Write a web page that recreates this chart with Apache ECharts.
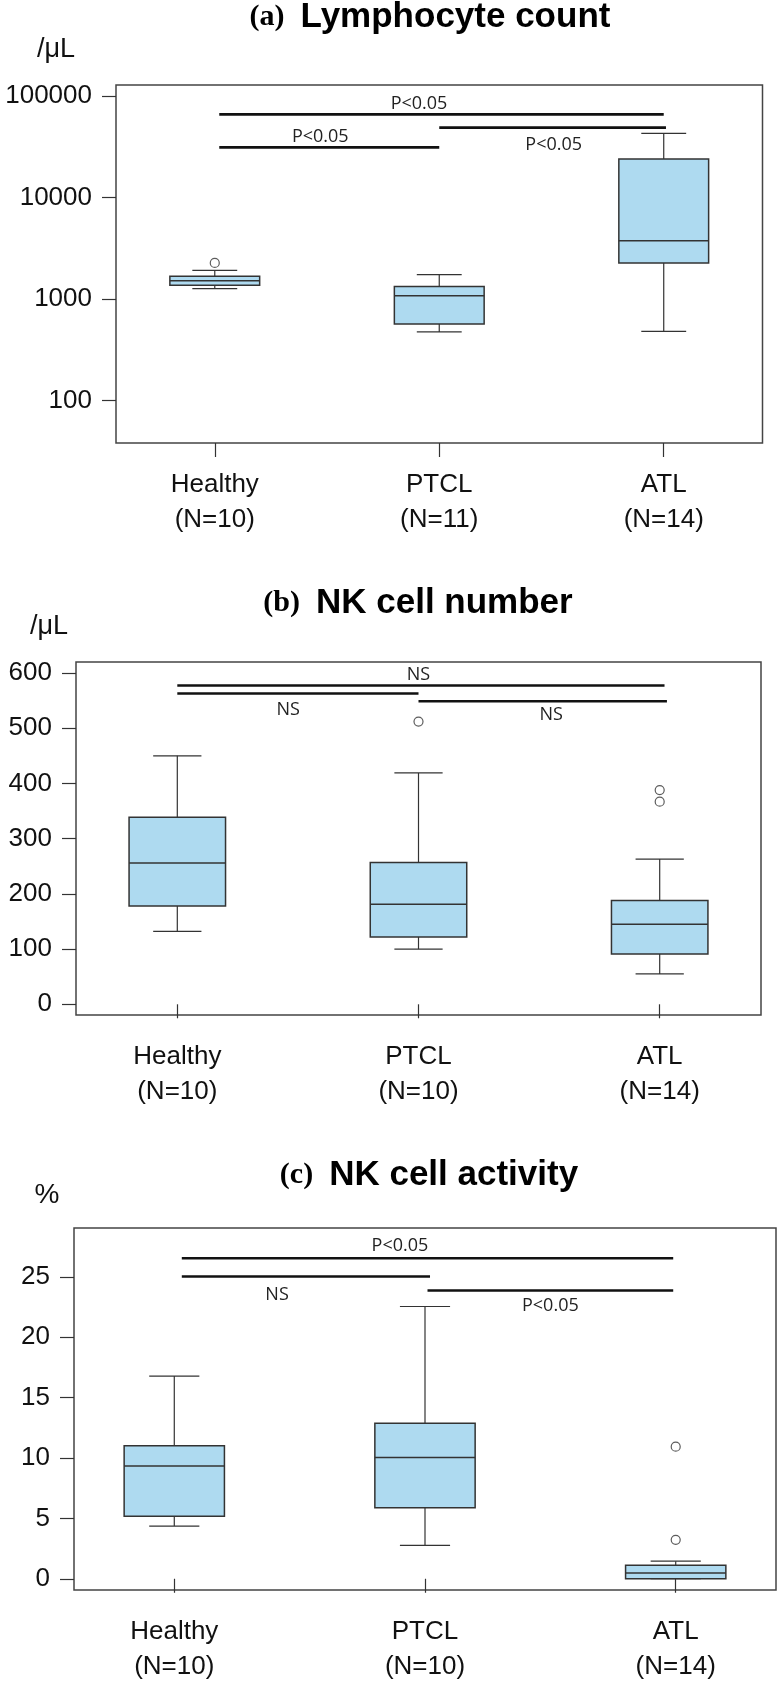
<!DOCTYPE html>
<html>
<head>
<meta charset="utf-8">
<script src="https://cdn.jsdelivr.net/npm/echarts@6/dist/echarts.min.js"></script>
<style>
  html, body { margin: 0; padding: 0; background: #fff; }
  #main { width: 777px; height: 1684px; }
</style>
</head>
<body>
<div id="main"></div>
<script>
// groups and sample sizes
var groups = ['Healthy', 'PTCL', 'ATL'];
var nLymph = ['(N=10)', '(N=11)', '(N=14)'];
var nNkNum = ['(N=10)', '(N=10)', '(N=14)'];
var nNkAct = ['(N=10)', '(N=10)', '(N=14)'];

// box stats: [min, Q1, median, Q3, max]
var lymphBoxes = [[1260, 1359, 1511, 1667, 1909], [472, 566, 1076, 1327, 1730], [478, 2259, 3745, 23900, 42700]];
var nkNumBoxes = [[132, 178, 256, 339, 450], [100, 122, 181, 257, 419], [55, 91, 145, 188, 263]];
var nkActBoxes = [[4.36, 5.18, 9.34, 11.02, 16.78], [2.76, 5.87, 10.03, 12.87, 22.54], [0, 0, 0.47, 1.11, 1.46]];

// outliers: [group, value]
var lymphOutliers = [[1, 2259]];
var nkNumOutliers = [[2, 512], [3, 388], [3, 367]];
var nkActOutliers = [[3, 10.94], [3, 3.22]];

// significance bars: [from, to, y, labelX, labelY, text]
var lymphSig = [[1.02, 3.0, 65800, 1.91, 83800, 'P<0.05'], [2.0, 3.01, 48700, 2.51, 33100, 'P<0.05'], [1.02, 2.0, 31100, 1.47, 39800, 'P<0.05']];
var nkNumSig = [[1.0, 3.02, 577.5, 2.0, 597, 'NS'], [1.0, 2.0, 563, 1.46, 533, 'NS'], [2.0, 3.03, 549, 2.55, 524, 'NS']];
var nkActSig = [[1.03, 2.99, 26.53, 1.9, 27.6, 'P<0.05'], [1.03, 2.02, 25.02, 1.41, 23.5, 'NS'], [2.01, 2.99, 23.86, 2.5, 22.56, 'P<0.05']];

// y tick labels
var lymphTicks = [100, 1000, 10000, 100000];
var nkNumTicks = [0, 100, 200, 300, 400, 500, 600];
var nkActTicks = [0, 5, 10, 15, 20, 25];

var SANS = '"Liberation Sans", Arial, sans-serif';
var INK = '#333';
var BOXFILL = '#AEDAF0';

function boxItem(params, api) {
    var x = api.value(0);
    var pLo = api.coord([x, api.value(1)]);
    var pQ1 = api.coord([x, api.value(2)]);
    var pMed = api.coord([x, api.value(3)]);
    var pQ3 = api.coord([x, api.value(4)]);
    var pHi = api.coord([x, api.value(5)]);
    var left = api.coord([x - 0.2, api.value(3)])[0];
    var right = api.coord([x + 0.2, api.value(3)])[0];
    var capL = api.coord([x - 0.1, api.value(3)])[0];
    var capR = api.coord([x + 0.1, api.value(3)])[0];
    var cx = pMed[0];
    var thin = { stroke: INK, lineWidth: 1.2 };
    return {
        type: 'group',
        children: [
            { type: 'line', shape: { x1: cx, y1: pQ1[1], x2: cx, y2: pLo[1] }, style: thin },
            { type: 'line', shape: { x1: capL, y1: pLo[1], x2: capR, y2: pLo[1] }, style: thin },
            { type: 'line', shape: { x1: cx, y1: pQ3[1], x2: cx, y2: pHi[1] }, style: thin },
            { type: 'line', shape: { x1: capL, y1: pHi[1], x2: capR, y2: pHi[1] }, style: thin },
            { type: 'rect', shape: { x: left, y: pQ3[1], width: right - left, height: pQ1[1] - pQ3[1] },
              style: { fill: BOXFILL, stroke: INK, lineWidth: 1.5 } },
            { type: 'line', shape: { x1: left, y1: pMed[1], x2: right, y2: pMed[1] }, style: { stroke: INK, lineWidth: 1.5 } }
        ]
    };
}

function sigRenderer(sig) {
    return function (params, api) {
        var a = api.coord([api.value(0), api.value(2)]);
        var b = api.coord([api.value(1), api.value(2)]);
        var t = api.coord([api.value(3), api.value(4)]);
        return {
            type: 'group',
            children: [
                { type: 'line', shape: { x1: a[0], y1: a[1], x2: b[0], y2: b[1] }, style: { stroke: '#111', lineWidth: 2.6 } },
                { type: 'text', x: t[0], y: t[1],
                  style: { text: sig[params.dataIndex][5], fill: '#222', font: '18px "Open Sans", sans-serif',
                           align: 'center', verticalAlign: 'middle' } }
            ]
        };
    };
}

function xAxisFor(idx, ns, min, max) {
    return {
        type: 'value', gridIndex: idx, min: min, max: max,
        splitLine: { show: false },
        axisLine: { show: false },
        axisTick: { show: true, customValues: [1, 2, 3], length: 14, lineStyle: { color: INK, width: 1.2 } },
        axisLabel: {
            customValues: [1, 2, 3], margin: 24, fontSize: 26, lineHeight: 35,
            fontFamily: SANS, color: '#111',
            formatter: function (v) { var i = Math.round(v) - 1; return groups[i] + '\n' + ns[i]; }
        }
    };
}

function yAxisFor(idx, type, min, max, ticks) {
    var ax = {
        type: type, gridIndex: idx, min: min, max: max,
        splitLine: { show: false },
        axisLine: { show: false },
        axisTick: { show: true, customValues: ticks, length: 14, lineStyle: { color: INK, width: 1.2 } },
        axisLabel: {
            customValues: ticks, margin: 24, fontSize: 26, fontFamily: SANS, color: '#111',
            formatter: function (v) { return String(Math.round(v)); }
        }
    };
    if (type === 'log') ax.logBase = 10;
    return ax;
}

function panelSeries(idx, boxes, outliers, sig) {
    return [
        { type: 'custom', xAxisIndex: idx, yAxisIndex: idx, renderItem: boxItem,
          data: boxes.map(function (b, i) { return [i + 1].concat(b); }), silent: true },
        { type: 'scatter', xAxisIndex: idx, yAxisIndex: idx, data: outliers, symbol: 'circle', symbolSize: 9,
          itemStyle: { color: '#fff', borderColor: INK, borderWidth: 1.2 }, silent: true },
        { type: 'custom', xAxisIndex: idx, yAxisIndex: idx, renderItem: sigRenderer(sig),
          data: sig.map(function (s) { return s.slice(0, 5); }), silent: true }
    ];
}

function titleText(x, y, tag, name) {
    return {
        type: 'text', x: x, y: y,
        style: {
            text: '{s|' + tag + '}{t|' + name + '}',
            align: 'center', verticalAlign: 'middle',
            rich: {
                s: { font: 'bold 30px "Liberation Serif", "Times New Roman", serif', fill: '#000', padding: [0, 16, 0, 0] },
                t: { font: 'bold 35px ' + SANS, fill: '#000' }
            }
        }
    };
}

function unitText(x, y, txt, size) {
    return { type: 'text', x: x, y: y,
             style: { text: txt, font: size + 'px ' + SANS, fill: '#111', align: 'center', verticalAlign: 'middle' } };
}

var myChart = echarts.init(document.getElementById('main'));
myChart.setOption({
    animation: false,
    backgroundColor: '#fff',
    grid: [
        { left: 116, top: 85, width: 646.5, height: 358, show: true, borderColor: '#444', borderWidth: 1.5, backgroundColor: 'transparent' },
        { left: 76, top: 662, width: 685, height: 353, show: true, borderColor: '#444', borderWidth: 1.5, backgroundColor: 'transparent' },
        { left: 74, top: 1228, width: 702, height: 363, show: true, borderColor: '#444', borderWidth: 1.5, backgroundColor: 'transparent' }
    ],
    xAxis: [
        xAxisFor(0, nLymph, 0.56, 3.44),
        xAxisFor(1, nNkNum, 0.58, 3.42),
        xAxisFor(2, nNkAct, 0.6, 3.4)
    ],
    yAxis: [
        yAxisFor(0, 'log', 38, 128000, lymphTicks),
        yAxisFor(1, 'value', -19.4, 620, nkNumTicks),
        yAxisFor(2, 'value', -0.93, 29.04, nkActTicks)
    ],
    graphic: [
        titleText(430, 17, '(a)', 'Lymphocyte count'),
        titleText(418, 603, '(b)', 'NK cell number'),
        titleText(429, 1175, '(c)', 'NK cell activity'),
        unitText(56, 50, '/μL', 27),
        unitText(49, 627, '/μL', 27),
        unitText(47, 1195, '%', 28)
    ],
    series: [].concat(
        panelSeries(0, lymphBoxes, lymphOutliers, lymphSig),
        panelSeries(1, nkNumBoxes, nkNumOutliers, nkNumSig),
        panelSeries(2, nkActBoxes, nkActOutliers, nkActSig)
    )
});
</script>
</body>
</html>
